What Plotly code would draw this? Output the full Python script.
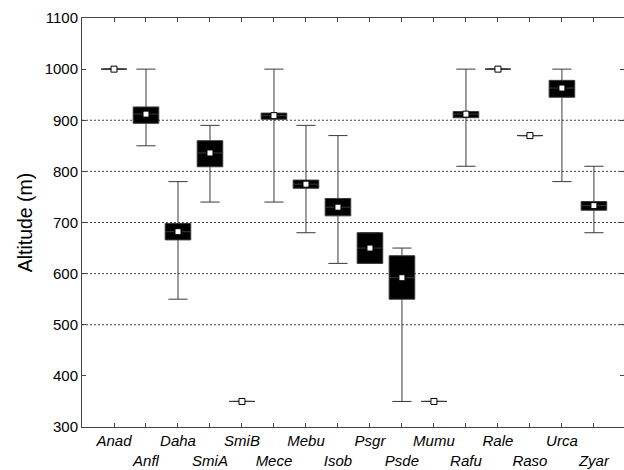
import plotly.graph_objects as go

species = ["Anad", "Anfl", "Daha", "SmiA", "SmiB", "Mece", "Mebu", "Isob",
           "Psgr", "Psde", "Mumu", "Rafu", "Rale", "Raso", "Urca", "Zyar"]
median = [1000, 912, 682, 836, 350, 909, 775, 730, 650, 592, 350, 912, 1000, 870, 963, 733]
q1 = [1000, 894, 666, 809, 350, 902, 767, 713, 620, 550, 350, 905, 1000, 870, 945, 724]
q3 = [1000, 926, 698, 860, 350, 914, 783, 747, 680, 635, 350, 917, 1000, 870, 978, 741]
low = [1000, 850, 550, 740, 350, 740, 680, 620, 620, 350, 350, 810, 1000, 870, 780, 680]
high = [1000, 1000, 780, 890, 350, 1000, 890, 870, 680, 650, 350, 1000, 1000, 870, 1000, 810]
y_ticks = [300, 400, 500, 600, 700, 800, 900, 1000, 1100]
grid_values = [500, 600, 700, 800, 900]

pos = list(range(1, len(species) + 1))
ticktext = [s if i % 2 == 0 else "<br>" + s for i, s in enumerate(species)]

fig = go.Figure()
fig.add_trace(go.Box(
    x=pos, q1=q1, median=median, q3=q3, lowerfence=low, upperfence=high,
    width=0.8, whiskerwidth=0.75, fillcolor="black",
    line=dict(color="#3a3a3a", width=1), boxpoints=False,
    hoverinfo="skip", showlegend=False,
))
fig.add_trace(go.Scatter(
    x=pos, y=median, mode="markers",
    marker=dict(symbol="square", size=6, color="white",
                line=dict(color="black", width=1)),
    hoverinfo="skip", showlegend=False,
))

shapes = [dict(type="line", xref="paper", x0=0, x1=1, yref="y", y0=g, y1=g,
               line=dict(color="#444", width=1, dash="2px,2px"), layer="below")
          for g in grid_values]

fig.update_layout(
    width=624, height=470,
    margin=dict(l=82, r=0, t=18, b=43),
    paper_bgcolor="white", plot_bgcolor="white",
    font=dict(family="Liberation Sans, Arial, sans-serif", color="black"),
    shapes=shapes,
    showlegend=False,
)
fig.update_xaxes(
    range=[0, 16.94], tickmode="array", tickvals=pos, ticktext=ticktext,
    tickfont=dict(size=15, style="italic"),
    ticks="inside", ticklen=4, tickcolor="#444",
    showline=True, linecolor="#444", linewidth=1, mirror="ticks",
    showgrid=False, zeroline=False, tickangle=0,
)
fig.update_yaxes(
    range=[300, 1100], tickmode="array", tickvals=y_ticks,
    tickfont=dict(size=15),
    ticks="inside", ticklen=4, tickcolor="#444",
    showline=True, linecolor="#444", linewidth=1, mirror="ticks",
    showgrid=False, zeroline=False,
    title=dict(text="Altitude (m)", font=dict(size=19.5), standoff=6),
)

fig.write_html("out.html")
